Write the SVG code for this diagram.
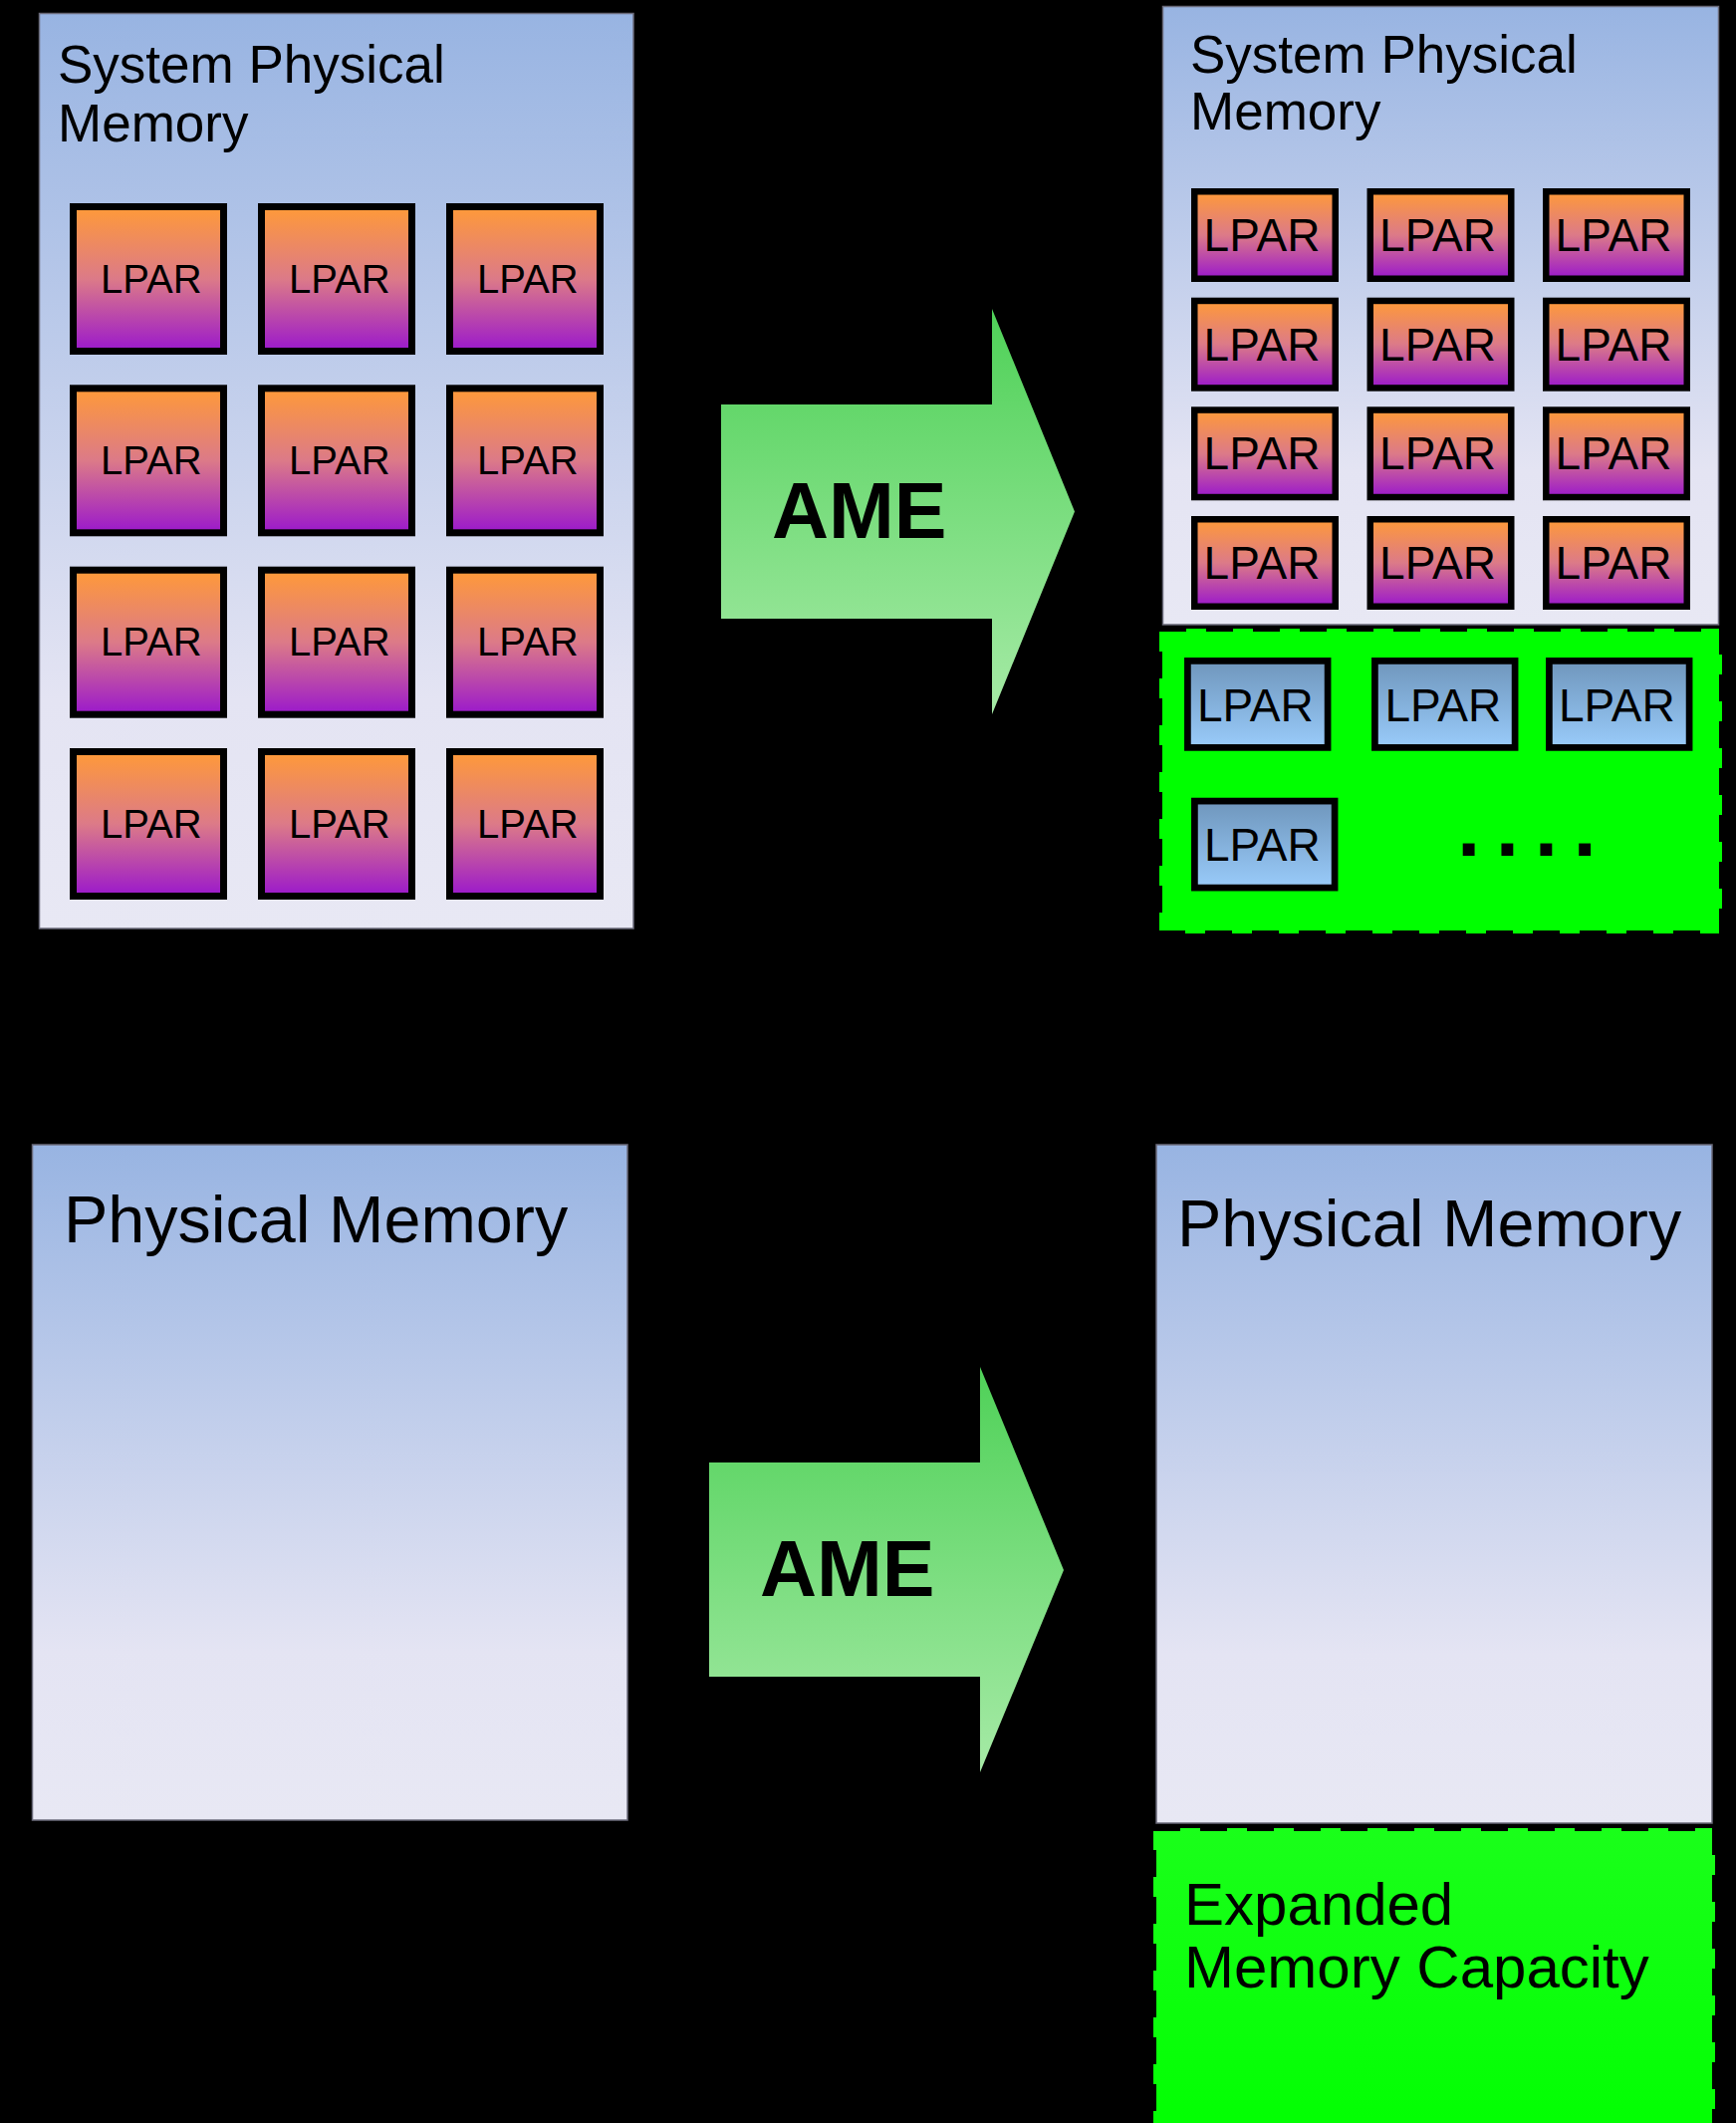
<svg xmlns="http://www.w3.org/2000/svg" width="1743" height="2131" viewBox="0 0 1743 2131">
<defs>
<linearGradient id="panelGrad" x1="0" y1="0" x2="0" y2="1">
<stop offset="0" stop-color="#98b4e2"/>
<stop offset="0.75" stop-color="#e4e4f3"/>
<stop offset="1" stop-color="#e8e8f4"/>
</linearGradient>
<linearGradient id="lparGrad" x1="0" y1="0" x2="0" y2="1">
<stop offset="0" stop-color="#ff9a38"/>
<stop offset="0.5" stop-color="#dc7a88"/>
<stop offset="1" stop-color="#9a18cc"/>
</linearGradient>
<linearGradient id="blueGrad" x1="0" y1="0" x2="0" y2="1">
<stop offset="0" stop-color="#6f96bc"/>
<stop offset="1" stop-color="#99cbfa"/>
</linearGradient>
<linearGradient id="arrowGrad" x1="0" y1="0" x2="0" y2="1">
<stop offset="0" stop-color="#4fd158"/>
<stop offset="1" stop-color="#a6eaa6"/>
</linearGradient>
<linearGradient id="greenGrad" x1="0" y1="0" x2="0" y2="1">
<stop offset="0" stop-color="#1aff1a"/>
<stop offset="1" stop-color="#00ff00"/>
</linearGradient>
</defs>
<style>
.panel{fill:url(#panelGrad);stroke:#6a6a7a;stroke-width:1.5}
.lparA{fill:url(#lparGrad);stroke:#000;stroke-width:7}
.lparB{fill:url(#lparGrad);stroke:#000;stroke-width:6.5}
.lparC{fill:url(#blueGrad);stroke:#000;stroke-width:6.7}
.ext{stroke:#000;stroke-width:6;stroke-dasharray:27 20}
.t{font-family:"Liberation Sans",Arial,sans-serif;fill:#000}
.title{font-size:53px}
.big{font-size:66.5px}
.lA{font-size:40px}
.lB{font-size:46px}
.ame{font-size:79px;font-weight:bold}
.arrow{fill:url(#arrowGrad)}
</style>
<rect x="0" y="0" width="1743" height="2131" fill="#000"/>

<g id="top-left-memory">
<rect class="panel" x="39.5" y="13.5" width="596.5" height="918.5"/>
<text class="t title" x="58" y="83">System Physical</text>
<text class="t title" x="58" y="142">Memory</text>
</g>
<g id="top-left-lpars">
<rect class="lparA" x="73.5" y="207.5" width="151" height="145"/><text class="t lA" x="101" y="293.5">LPAR</text>
<rect class="lparA" x="262.5" y="207.5" width="151" height="145"/><text class="t lA" x="290" y="293.5">LPAR</text>
<rect class="lparA" x="451.5" y="207.5" width="151" height="145"/><text class="t lA" x="479" y="293.5">LPAR</text>
<rect class="lparA" x="73.5" y="389.8" width="151" height="145"/><text class="t lA" x="101" y="475.8">LPAR</text>
<rect class="lparA" x="262.5" y="389.8" width="151" height="145"/><text class="t lA" x="290" y="475.8">LPAR</text>
<rect class="lparA" x="451.5" y="389.8" width="151" height="145"/><text class="t lA" x="479" y="475.8">LPAR</text>
<rect class="lparA" x="73.5" y="572.2" width="151" height="145"/><text class="t lA" x="101" y="658.2">LPAR</text>
<rect class="lparA" x="262.5" y="572.2" width="151" height="145"/><text class="t lA" x="290" y="658.2">LPAR</text>
<rect class="lparA" x="451.5" y="572.2" width="151" height="145"/><text class="t lA" x="479" y="658.2">LPAR</text>
<rect class="lparA" x="73.5" y="754.5" width="151" height="145"/><text class="t lA" x="101" y="840.5">LPAR</text>
<rect class="lparA" x="262.5" y="754.5" width="151" height="145"/><text class="t lA" x="290" y="840.5">LPAR</text>
<rect class="lparA" x="451.5" y="754.5" width="151" height="145"/><text class="t lA" x="479" y="840.5">LPAR</text>
</g>

<g id="top-right-memory">
<rect class="panel" x="1167.5" y="6.5" width="558" height="620.5"/>
<text class="t title" x="1195" y="73">System Physical</text>
<text class="t title" x="1195" y="130">Memory</text>
</g>
<g id="top-right-lpars">
<rect class="lparB" x="1199.25" y="192.25" width="141.5" height="87.5"/><text class="t lB" x="1208.6" y="252">LPAR</text>
<rect class="lparB" x="1375.75" y="192.25" width="141.5" height="87.5"/><text class="t lB" x="1385.1" y="252">LPAR</text>
<rect class="lparB" x="1552.25" y="192.25" width="141.5" height="87.5"/><text class="t lB" x="1561.6" y="252">LPAR</text>
<rect class="lparB" x="1199.25" y="301.95" width="141.5" height="87.5"/><text class="t lB" x="1208.6" y="361.7">LPAR</text>
<rect class="lparB" x="1375.75" y="301.95" width="141.5" height="87.5"/><text class="t lB" x="1385.1" y="361.7">LPAR</text>
<rect class="lparB" x="1552.25" y="301.95" width="141.5" height="87.5"/><text class="t lB" x="1561.6" y="361.7">LPAR</text>
<rect class="lparB" x="1199.25" y="411.55" width="141.5" height="87.5"/><text class="t lB" x="1208.6" y="471.3">LPAR</text>
<rect class="lparB" x="1375.75" y="411.55" width="141.5" height="87.5"/><text class="t lB" x="1385.1" y="471.3">LPAR</text>
<rect class="lparB" x="1552.25" y="411.55" width="141.5" height="87.5"/><text class="t lB" x="1561.6" y="471.3">LPAR</text>
<rect class="lparB" x="1199.25" y="521.25" width="141.5" height="87.5"/><text class="t lB" x="1208.6" y="581">LPAR</text>
<rect class="lparB" x="1375.75" y="521.25" width="141.5" height="87.5"/><text class="t lB" x="1385.1" y="581">LPAR</text>
<rect class="lparB" x="1552.25" y="521.25" width="141.5" height="87.5"/><text class="t lB" x="1561.6" y="581">LPAR</text>
</g>

<g id="top-right-expanded">
<rect class="ext" x="1164" y="631" width="565" height="306" fill="#00ff00"/>
<rect class="lparC" x="1192.4" y="663.4" width="140.7" height="87"/><text class="t lB" x="1202" y="724">LPAR</text>
<rect class="lparC" x="1380.4" y="663.4" width="140.7" height="87"/><text class="t lB" x="1390.5" y="724">LPAR</text>
<rect class="lparC" x="1555.4" y="663.4" width="140.7" height="87"/><text class="t lB" x="1565" y="724">LPAR</text>
<rect class="lparC" x="1199.4" y="804.1" width="140.7" height="87"/><text class="t lB" x="1209" y="864">LPAR</text>
<text class="t" x="1463" y="858.7" style="font-size:84px;font-weight:bold;letter-spacing:15.5px">....</text>
</g>

<g id="bottom-left-memory">
<rect class="panel" x="32.5" y="1149" width="597.5" height="678"/>
<text class="t big" x="64" y="1247">Physical Memory</text>
</g>

<g id="bottom-right-memory">
<rect class="panel" x="1161" y="1149" width="558" height="681"/>
<text class="t big" x="1182" y="1251">Physical Memory</text>
</g>

<g id="bottom-right-expanded">
<rect class="ext" x="1158" y="1835" width="564" height="330" fill="url(#greenGrad)"/>
<text class="t" x="1189" y="1932" style="font-size:60px">Expanded</text>
<text class="t" x="1189" y="1995" style="font-size:60px">Memory Capacity</text>
</g>

<g id="connectors">
<g id="arrow-top">
<polygon class="arrow" points="724,406 996,406 996,310 1079,513.5 996,717 996,621 724,621"/>
<text class="t ame" x="775" y="540">AME</text>
</g>
<g id="arrow-bottom">
<polygon class="arrow" points="712,1468 984,1468 984,1372 1068,1576 984,1779 984,1683 712,1683"/>
<text class="t ame" x="763" y="1602">AME</text>
</g>
</g>
</svg>
